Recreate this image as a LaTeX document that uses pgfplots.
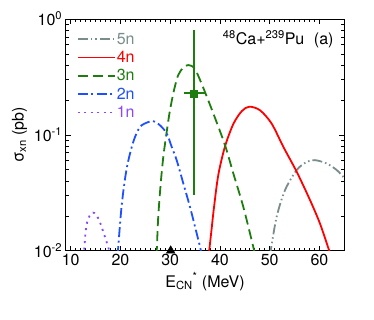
\documentclass[border=0pt]{standalone}
\usepackage{fontspec}
\setmainfont{TeX Gyre Heros}
\usepackage{pgfplots}
\pgfplotsset{compat=1.18}
\definecolor{c5}{RGB}{122,140,140}
\definecolor{c4}{RGB}{255,0,0}
\definecolor{c3}{RGB}{30,125,15}
\definecolor{c2}{RGB}{30,80,255}
\definecolor{c1}{RGB}{140,70,255}
\newcommand{\ff}{\fontsize{16}{19}\selectfont}
\begin{document}
\begin{tikzpicture}
\useasboundingbox (0,0) rectangle (374pt,320pt);
\begin{axis}[
  at={(65.7pt,69.3pt)}, anchor=south west,
  scale only axis, width=278.6pt, height=231.7pt,
  ymode=log, xmin=9, xmax=65, ymin=0.01, ymax=1,
  xtick={10,20,...,60}, minor x tick num=9,
  ytick={0.01,0.1,1},
  yticklabels={10\textsuperscript{-2},10\textsuperscript{-1},10\textsuperscript{0}},
  tick align=inside, major tick length=5pt, minor tick length=3pt,
  xticklabel style={/pgf/number format/assume math mode=true},
  tick label style={font=\ff},
  label style={font=\ff},
  xlabel={E\textsubscript{CN}\textsuperscript{*} (MeV)},
  ylabel={σ\textsubscript{xn} (pb)},
  axis line style={line width=0.8pt},
  every tick/.style={black, line width=0.6pt},
  legend style={at={(0.04,0.945)}, anchor=north west, draw=none, fill=none,
    inner sep=0pt, row sep=3.5pt,
    nodes={inner sep=1pt, font=\ff}},
  legend cell align=left,
  legend image code/.code={\draw[#1] (0pt,0pt) -- (37pt,0pt);},
]
\addplot[c5, line width=1.8pt, smooth, dash pattern=on 10pt off 3pt on 1.5pt off 3pt on 1.5pt off 3pt]
coordinates {(50.05,0.009) (50.2,0.0100) (51.4,0.0196) (53.08,0.0333) (55.43,0.0497) (57.44,0.0584) (59.1,0.0605) (61.46,0.0566) (63.47,0.0497) (65,0.0425) (65.2,0.042)};
\addlegendentry{\textcolor{c5}{5n}}
\addplot[c4, line width=1.8pt, smooth]
coordinates {(37.8,0.0095) (37.9,0.0105) (38.3,0.0150) (38.8,0.0235) (39.67,0.0450) (41.0,0.0789) (42.69,0.124) (44.38,0.160) (45.9,0.175) (48.06,0.163) (50.4,0.125) (52.74,0.0789) (55.43,0.048) (58.1,0.0274) (60.1,0.0172) (61.8,0.0105) (62.0,0.0099)};
\addlegendentry{\textcolor{c4}{4n}}
\addplot[c3, line width=1.8pt, smooth, dash pattern=on 10pt off 5pt]
coordinates {(27.2,0.009) (27.3,0.0100) (27.6,0.0196) (28.1,0.0381) (28.62,0.0646) (29.3,0.106) (29.96,0.163) (30.77,0.243) (31.6,0.327) (32.64,0.381) (33.64,0.400) (34.93,0.373) (36.6,0.258) (38.67,0.153) (41.02,0.0815) (42.69,0.0465) (44.7,0.0239) (46.7,0.0108) (46.9,0.0098)};
\addlegendentry{\textcolor{c3}{3n}}
\addplot[c2, line width=1.8pt, smooth, dash pattern=on 10pt off 3.5pt on 2pt off 3.5pt]
coordinates {(19.4,0.009) (19.5,0.0100) (20.26,0.0248) (21.26,0.0513) (22.59,0.0871) (23.93,0.117) (25.6,0.129) (26.7,0.131) (27.95,0.121) (29.3,0.103) (30.3,0.0789) (31.3,0.0605) (32.64,0.0381) (33.98,0.0239) (34.99,0.0161) (36.0,0.0108) (36.2,0.0098)};
\addlegendentry{\textcolor{c2}{2n}}
\addplot[c1, line width=1.8pt, smooth, dash pattern=on 2pt off 4.5pt]
coordinates {(12.6,0.009) (12.72,0.0100) (12.85,0.0120) (13.0,0.0145) (13.3,0.0175) (13.8,0.0200) (14.5,0.0213) (15.1,0.0205) (15.8,0.0180) (16.5,0.0148) (17.2,0.0120) (17.7,0.0102) (17.8,0.0098)};
\addlegendentry{\textcolor{c1}{1n}}
% horizontal error bar of the data point
\addplot[c3, line width=1.8pt, forget plot] coordinates {(32.7,0.228) (36.9,0.228)};
\addplot[c3, only marks, mark=square*, mark size=3.5pt, forget plot,
  error bars/.cd, y dir=both, y explicit,
  error mark=none, error bar style={line width=1.8pt, c3}]
table[row sep=\\, x=x, y=y, y error plus=eyp, y error minus=eym]
{x y eyp eym \\ 34.8 0.228 0.582 0.198 \\};
\addplot[black, only marks, mark=triangle*, mark size=5pt, forget plot]
coordinates {(30.1,0.01)};
\node[anchor=base east, font=\ff] at (rel axis cs:0.974,0.888)
  {\textsuperscript{48}Ca+\textsuperscript{239}Pu\hspace{0.6em}(a)};
\end{axis}
\end{tikzpicture}
\end{document}
